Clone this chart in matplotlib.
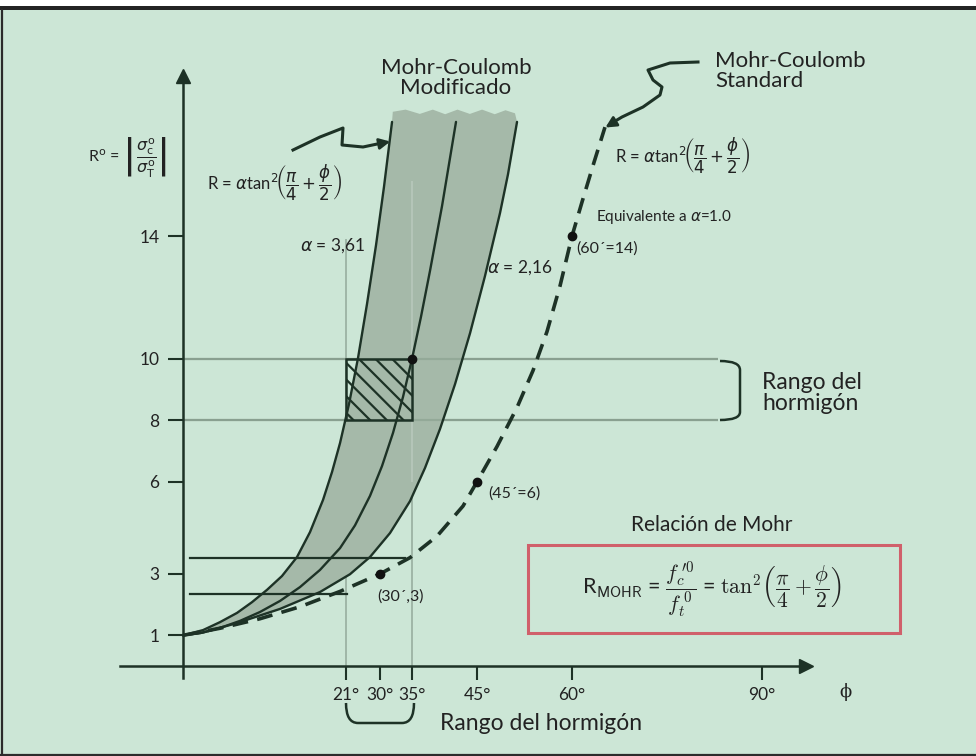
import numpy as np
import matplotlib
matplotlib.use('Agg')
import matplotlib.pyplot as plt
from matplotlib.path import Path
from matplotlib.patches import PathPatch, Rectangle

plt.rcParams['font.family'] = ['Lato', 'DejaVu Sans']
plt.rcParams['hatch.linewidth'] = 1.6

# Mohr-Coulomb standard (alpha = 1)
std_phi = [0, 4.77, 9.92, 15.07, 20.23, 30, 34.69, 38.85, 42.85, 45, 48.16, 51.32,
           53.84, 56.05, 58.11, 60, 61.58, 63.47, 65.21]
std_r = [1.0, 1.23, 1.54, 1.93, 2.43, 3.0, 3.53, 4.23, 5.21, 6.0, 7.15, 8.42,
         9.62, 10.89, 12.38, 14.0, 15.11, 16.4, 17.55]

# Mohr-Coulomb modificado: three curves, the outer two bound the shaded band
left_phi = [0, 2.58, 4.77, 6.96, 8.89, 10.82, 12.75, 14.69, 16.36, 18.04, 19.2,
            20.23, 21.79, 24.18, 26.56, 28.94, 30.62, 31.88]
left_r = [1.0, 1.17, 1.43, 1.73, 2.08, 2.48, 2.93, 3.55, 4.36, 5.41, 6.32,
          7.26, 8.53, 10.03, 11.79, 13.7, 15.6, 17.72]
mid_phi = [0, 2.19, 4.77, 7.34, 9.92, 12.5, 15.07, 17.65, 20.23, 23.38, 27.35,
           30.31, 32.03, 33.59, 35.0, 36.38, 37.77, 39.62, 41.77]
mid_r = [1.0, 1.07, 1.24, 1.47, 1.76, 2.12, 2.57, 3.13, 3.84, 4.58, 5.54,
         6.51, 7.59, 8.76, 10.0, 11.37, 12.87, 14.98, 17.72]
right_phi = [0, 2.58, 6.96, 12.5, 17.65, 22.06, 27.35, 31.56, 34.69, 37.0, 39.31,
             41.62, 43.93, 46.26, 48.63, 49.89, 51.32]
right_r = [1.0, 1.09, 1.4, 1.86, 2.41, 2.99, 3.55, 4.33, 5.37, 6.45, 7.72,
           9.18, 10.84, 12.7, 14.75, 16.01, 17.72]

# ragged top edge of the band
top_phi = [31.88, 32.0, 34.0, 36.2, 38.2, 40.1, 42.0, 43.9, 45.8, 47.8, 49.5, 51.0, 51.32]
top_r = [17.72, 18.05, 18.12, 17.98, 18.12, 17.97, 18.12, 17.98, 18.12, 17.97, 18.1, 18.0, 17.72]

# marked points
std_pts_phi = [30, 45, 60]
std_pts_r = [3, 6, 14]
std_pts_text = ['(30´,3)', '(45´=6)', '(60´=14)']
mod_pt = (35, 10)

# concrete range
range_phi = (21, 35)
range_r = (8, 10)
level_r = [3.52, 2.35]
level_end = [33.9, 21.3]

x_ticks = [21, 30, 35, 45, 60, 90]
x_labels = ['21°', '30°', '35°', '45°', '60°', '90°']
y_ticks = [1, 3, 6, 8, 10, 14]

ink = '#1d3226'
bg = '#cce6d6'
band = '#a5b9a9'
grid = '#98ae9f'

# the phi axis is drawn with uneven spacing between its marked angles
DEG_KNOTS = [-40, 0, 21, 30, 35, 45, 60, 90, 160]
POS_KNOTS = [-127.4, 183, 346, 380, 412, 477, 572, 762, 1205.3]


def fwd(x):
    return np.interp(x, DEG_KNOTS, POS_KNOTS)


def inv(p):
    return np.interp(p, POS_KNOTS, DEG_KNOTS)


fig = plt.figure(figsize=(9.76, 7.56), dpi=100, facecolor=bg)
ax = fig.add_axes([0, 0, 1, 1])
ax.patch.set_visible(False)
ax.set_xscale('function', functions=(fwd, inv))
ax.set_xlim(inv(0), inv(976))
ax.set_ylim(-2.93, 21.69)

for s in ['top', 'right']:
    ax.spines[s].set_visible(False)
ax.spines['left'].set_position(('data', 0))
ax.spines['bottom'].set_position(('data', 0))
ax.spines['left'].set_bounds(-0.4, 19.0)
ax.spines['bottom'].set_bounds(inv(120), inv(800))
for s in ['left', 'bottom']:
    ax.spines[s].set_color(ink)
    ax.spines[s].set_linewidth(1.8)
ax.plot([0], [19.2], marker='^', ms=10, color=ink, clip_on=False)
ax.plot([inv(806)], [0], marker='>', ms=10, color=ink, clip_on=False)

ax.set_xticks(x_ticks)
ax.set_xticklabels(x_labels)
ax.set_yticks(y_ticks)
ax.tick_params(axis='x', direction='out', length=10, width=1.5, color=ink,
               pad=5, labelsize=12.5, labelcolor='#222222')
ax.tick_params(axis='y', direction='out', length=11, width=1.5, color=ink,
               pad=6, labelsize=12.5, labelcolor='#222222')
ax.xaxis.set_minor_locator(plt.NullLocator())

# reference lines
ax.vlines([range_phi[0]], 0, 13.9, color=grid, lw=1.2, zorder=1)
ax.vlines([range_phi[1]], 0, 15.8, color=grid, lw=1.2, zorder=1)
ax.hlines(list(range_r), 0, 83, color=grid, lw=1.6, zorder=1)

# shaded band between the outer curves
band_x = np.concatenate([left_phi, top_phi, right_phi[::-1]])
band_y = np.concatenate([left_r, top_r, right_r[::-1]])
ax.fill(band_x, band_y, color=band, lw=0, zorder=2)
ax.vlines([range_phi[1]], 6, 15.8, color='white', alpha=0.18, lw=1.4, zorder=2.5)
ax.hlines(list(range_r), 0, 83, color='#5e7a67', alpha=0.25, lw=1.6, zorder=2.5)

for px, pr in [(left_phi, left_r), (mid_phi, mid_r), (right_phi, right_r)]:
    ax.plot(px, pr, color=ink, lw=1.7, zorder=4, solid_capstyle='round',
            solid_joinstyle='round')

ax.plot(std_phi, std_r, color=ink, lw=2.6, dashes=(4.4, 2.6), zorder=4)

for r, e in zip(level_r, level_end):
    ax.plot([0.9, e], [r, r], color=ink, lw=1.6, zorder=3)

hatch = Rectangle((range_phi[0], range_r[0]), range_phi[1] - range_phi[0],
                  range_r[1] - range_r[0], facecolor='none', edgecolor=ink,
                  lw=1.8, hatch='\\\\', zorder=5)
ax.add_patch(hatch)

ax.plot(std_pts_phi, std_pts_r, 'o', color='#111111', ms=6, zorder=6)
ax.plot([mod_pt[0]], [mod_pt[1]], 'o', color='#111111', ms=6, zorder=6)

offsets = [(-2, -16.5), (8, -8.6), (3, -8.6)]
for x, y, t, off in zip(std_pts_phi, std_pts_r, std_pts_text, offsets):
    ax.annotate(t, (x, y), xytext=off, textcoords='offset points',
                ha='left', va='center', fontsize=11.5, color='#222222')

# overlay in pixel units for frame, arrows, brackets and free text
deco = fig.add_axes([0, 0, 1, 1])
deco.set_xlim(0, 976)
deco.set_ylim(756, 0)
deco.axis('off')

deco.add_patch(Rectangle((0, 0), 976, 5.5, color='white', lw=0))
deco.add_patch(Rectangle((0, 5.5), 976, 4.5, color='#242424', lw=0))
deco.plot([1.5, 1.5], [10, 756], color='#2b2b2b', lw=1.6)
deco.plot([0, 976], [754.5, 754.5], color='#2b2b2b', lw=1.6)

mod_arrow = [(293, 150), (320, 137), (343, 128), (342, 145), (363, 147), (382, 143)]
deco.plot(*zip(*mod_arrow), color=ink, lw=2.2, solid_joinstyle='round')
deco.annotate('', xy=(393, 141), xytext=(378, 144),
              arrowprops=dict(arrowstyle='-|>', mutation_scale=16, lw=2, color=ink))

std_arrow = [(698, 62), (670, 63), (648, 70), (653, 80), (662, 87), (660, 95),
             (643, 107), (622, 117), (612, 123)]
deco.plot(*zip(*std_arrow), color=ink, lw=2.2, solid_joinstyle='round')
deco.annotate('', xy=(603, 129), xytext=(616, 121),
              arrowprops=dict(arrowstyle='-|>', mutation_scale=16, lw=2, color=ink))

C = Path.CURVE3
br_right = Path([(720, 361), (740, 361), (740, 370), (740, 412), (740, 420), (720, 420)],
                [Path.MOVETO, C, C, Path.LINETO, C, C])
deco.add_patch(PathPatch(br_right, fill=False, edgecolor=ink, lw=1.8))
br_bottom = Path([(346, 703), (346, 723), (358, 723), (402, 723), (414, 723), (414, 703)],
                 [Path.MOVETO, C, C, Path.LINETO, C, C])
deco.add_patch(PathPatch(br_bottom, fill=False, edgecolor=ink, lw=1.8))

deco.add_patch(Rectangle((528, 545), 372, 88, fill=False, edgecolor='#d0606b', lw=2.2))

txt = dict(color='#222222')
deco.text(88, 157, r'R$^{\rm o}$ = $\left|\dfrac{\sigma^{\rm o}_{\rm c}}{\sigma^{\rm o}_{\rm T}}\right|$',
          fontsize=11.5, va='center', ha='left', math_fontfamily='dejavusans', **txt)
formula = r'R = $\alpha$tan$^2\!\left(\dfrac{\pi}{4}+\dfrac{\phi}{2}\right)$'
deco.text(207, 183, formula, fontsize=12, va='center', ha='left',
          math_fontfamily='dejavusans', **txt)
deco.text(615, 156, formula, fontsize=12, va='center', ha='left',
          math_fontfamily='dejavusans', **txt)
deco.text(456, 78, 'Mohr-Coulomb\nModificado', fontsize=16, ha='center', va='center',
          linespacing=1.0, **txt)
deco.text(715, 71, 'Mohr-Coulomb\nStandard', fontsize=16, ha='left', va='center',
          linespacing=1.0, **txt)
deco.text(596, 217, r'Equivalente a $\alpha$=1.0', fontsize=11, ha='left', va='center',
          math_fontfamily='dejavusans', **txt)
deco.text(300, 246, r'$\alpha$ = 3,61', fontsize=12.5, ha='left', va='center',
          math_fontfamily='dejavusans', **txt)
deco.text(487, 268, r'$\alpha$ = 2,16', fontsize=12.5, ha='left', va='center',
          math_fontfamily='dejavusans', **txt)
deco.text(762, 393, 'Rango del\nhormigón', fontsize=16.5, ha='left', va='center',
          linespacing=1.0, **txt)
deco.text(712, 525, 'Relación de Mohr', fontsize=15, ha='center', va='center', **txt)
deco.text(712, 590,
          r'R$_{\mathsf{MOHR}}$ = $\dfrac{f^{\,\prime 0}_{c}}{f^{\,0}_{t}}$ = $\tan^2\!\left(\dfrac{\pi}{4}+\dfrac{\phi}{2}\right)$',
          fontsize=15.5, ha='center', va='center', math_fontfamily='cm', **txt)
deco.text(845, 692, 'ϕ', fontsize=13, ha='center', va='center',
          family='DejaVu Serif', **txt)
deco.text(440, 723, 'Rango del hormigón', fontsize=16.5, ha='left', va='center', **txt)

fig.savefig('out.png', dpi=100, facecolor=bg)
